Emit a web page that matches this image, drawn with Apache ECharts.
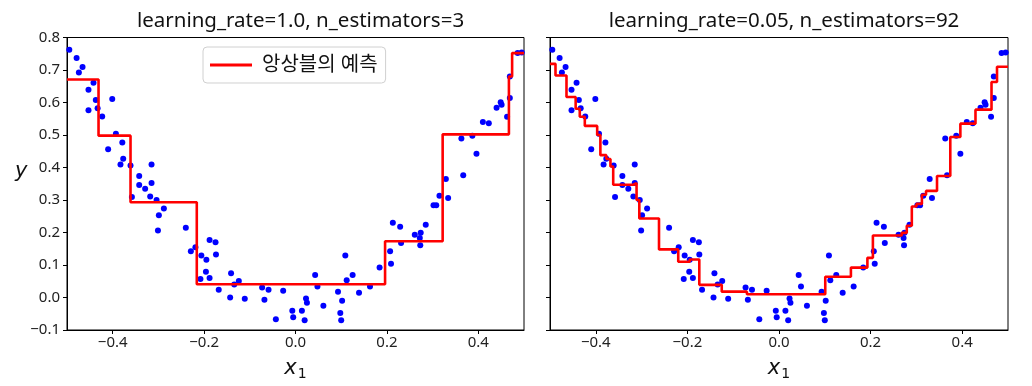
<!DOCTYPE html>
<html>
<head>
<meta charset="utf-8">
<script src="https://cdn.jsdelivr.net/npm/echarts@6/dist/echarts.min.js"></script>
<style>
html,body{margin:0;padding:0;background:#fff;}
#chart{width:1032px;height:386px;}
</style>
</head>
<body>
<div id="chart"></div>
<script>
// ---- data ----
const pointX = [-0.495,-0.479,-0.466,-0.474,-0.442,-0.453,-0.437,-0.401,-0.453,-0.433,
  -0.423,-0.393,-0.379,-0.410,-0.377,-0.383,-0.361,-0.315,-0.342,-0.342,
  -0.329,-0.315,-0.358,-0.318,-0.304,-0.288,-0.299,-0.301,-0.240,-0.229,
  -0.219,-0.188,-0.175,-0.206,-0.195,-0.174,-0.196,-0.208,-0.188,-0.168,
  -0.141,-0.134,-0.124,-0.143,-0.111,-0.073,-0.059,-0.068,-0.027,-0.043,
  -0.007,-0.005,0.014,0.020,0.023,0.025,0.043,0.048,0.061,0.093,
  0.102,0.098,0.100,0.109,0.112,0.125,0.139,0.163,0.184,0.209,
  0.207,0.213,0.229,0.231,0.261,0.272,0.274,0.273,0.285,0.302,
  0.308,0.315,0.334,0.329,0.367,0.396,0.363,0.387,0.410,0.423,
  0.440,0.449,0.451,0.469,0.463,0.469,0.486,0.495];
const pointY = [0.762,0.737,0.709,0.692,0.661,0.639,0.608,0.611,0.576,0.582,
  0.557,0.504,0.477,0.456,0.427,0.409,0.406,0.409,0.374,0.346,
  0.335,0.352,0.309,0.311,0.300,0.274,0.253,0.206,0.215,0.142,
  0.155,0.177,0.170,0.129,0.116,0.132,0.079,0.057,0.060,0.024,
  0.075,0.040,0.051,0.000,-0.004,0.031,0.024,-0.007,0.021,-0.067,
  -0.041,-0.061,-0.041,-0.070,-0.003,-0.016,0.069,0.034,-0.025,0.018,
  -0.010,-0.048,-0.070,0.129,0.053,0.069,0.015,0.034,0.092,0.104,
  0.142,0.230,0.218,0.168,0.193,0.183,0.199,0.161,0.224,0.284,
  0.284,0.313,0.306,0.365,0.376,0.442,0.489,0.498,0.540,0.536,
  0.584,0.601,0.593,0.614,0.556,0.680,0.752,0.754];

// ensemble predictions: step thresholds and levels
const breaksLeft = [-0.431,-0.361,-0.216,0.196,0.322,0.467,0.474];
const levelsLeft = [0.671,0.498,0.293,0.041,0.173,0.502,0.680,0.752];

const breaksRight = [-0.488,-0.464,-0.444,-0.435,-0.424,-0.397,-0.390,-0.377,-0.368,-0.362,
  -0.318,-0.311,-0.305,-0.262,-0.220,-0.195,-0.174,-0.125,-0.070,0.101,
  0.157,0.193,0.205,0.268,0.279,0.290,0.300,0.312,0.321,0.345,
  0.374,0.396,0.429,0.464,0.476];
const levelsRight = [0.719,0.683,0.617,0.581,0.556,0.528,0.500,0.438,0.426,0.403,0.347,
  0.352,0.300,0.243,0.148,0.110,0.117,0.039,0.018,0.010,0.064,
  0.092,0.122,0.191,0.199,0.221,0.280,0.288,0.316,0.328,0.374,
  0.494,0.535,0.578,0.663,0.710];

const xRange = [-0.5, 0.5];
const yRange = [-0.1, 0.8];
const xTicks = [-0.4,-0.2,0.0,0.2,0.4];
const yTicks = [-0.1,0.0,0.1,0.2,0.3,0.4,0.5,0.6,0.7,0.8];

const titles = ['learning_rate=1.0, n_estimators=3','learning_rate=0.05, n_estimators=92'];
const legendName = '앙상블의 예측';

// ---- build ----
function stepLine(breaks, levels){
  const pts = [[xRange[0], levels[0]]];
  breaks.forEach((b,i)=>{ pts.push([b, levels[i]]); pts.push([b, levels[i+1]]); });
  pts.push([xRange[1], levels[levels.length-1]]);
  return pts;
}
const scatterData = pointX.map((x,i)=>[x, pointY[i]]);
const FONT = '"Noto Sans", "Noto Sans CJK KR", sans-serif';
const MATH = '"DejaVu Sans", sans-serif';
const fmt = v => v.toFixed(1).replace('-', '\u2212');

const grids = [
  {left:67, top:37.5, width:457, height:295.5},
  {left:550, top:37.5, width:458, height:295.5}
];

function xAx(i){
  return {
    type:'value', gridIndex:i, min:xRange[0], max:xRange[1],
    axisLine:{show:true, onZero:false, lineStyle:{color:'#000', width:1}},
    axisTick:{show:true, length:4, customValues:xTicks, lineStyle:{color:'#000'}},
    axisLabel:{show:true, customValues:xTicks, formatter:fmt, color:'#222', fontSize:15, fontFamily:FONT, margin:5},
    splitLine:{show:false},
    name:'{x|x}{s|1}', nameLocation:'middle', nameGap:27,
    nameTextStyle:{rich:{
      x:{fontSize:21, fontStyle:'italic', fontFamily:MATH, color:'#111'},
      s:{fontSize:14, fontFamily:MATH, color:'#111', padding:[10,0,0,1]}
    }}
  };
}
function yAx(i){
  return {
    type:'value', gridIndex:i, min:yRange[0], max:yRange[1],
    axisLine:{show:true, onZero:false, lineStyle:{color:'#000', width:1}},
    axisTick:{show:true, length:4, customValues:yTicks, lineStyle:{color:'#000'}},
    axisLabel:{show:i===0, customValues:yTicks, formatter:fmt, color:'#222', fontSize:15, fontFamily:FONT, margin:7},
    splitLine:{show:false}
  };
}

const option = {
  animation:false,
  backgroundColor:'#fff',
  title: titles.map((t,i)=>({
    text:t, left: grids[i].left + grids[i].width/2, top:6, textAlign:'center',
    textStyle:{fontSize:20.5, fontWeight:'normal', color:'#111', fontFamily:FONT}
  })),
  graphic:[{
    type:'text', left:15, top:161,
    style:{text:'y', fontSize:21, fontStyle:'italic', fontFamily:MATH, fill:'#111'}
  }],
  legend:{
    data:[{name:legendName, icon:'rect'}], left:203, top:47, orient:'vertical',
    backgroundColor:'rgba(255,255,255,0.8)', borderColor:'#d0d0d0', borderWidth:1, borderRadius:4,
    padding:[8,8,8,7], itemWidth:42, itemHeight:2.8,
    textStyle:{fontSize:20, color:'#111', fontFamily:FONT, padding:[0,0,0,5]}
  },
  grid: grids.map(g=>Object.assign({show:true, borderColor:'#000', borderWidth:1, backgroundColor:'transparent'}, g)),
  xAxis:[xAx(0), xAx(1)],
  yAxis:[yAx(0), yAx(1)],
  series:[
    {type:'scatter', xAxisIndex:0, yAxisIndex:0, data:scatterData, symbolSize:6, itemStyle:{color:'#0000ff', opacity:1}, z:2},
    {type:'scatter', xAxisIndex:1, yAxisIndex:1, data:scatterData, symbolSize:6, itemStyle:{color:'#0000ff', opacity:1}, z:2},
    {type:'line', name:legendName, xAxisIndex:0, yAxisIndex:0, data:stepLine(breaksLeft, levelsLeft), symbol:'none',
      lineStyle:{color:'#ff0000', width:2.6}, itemStyle:{color:'#ff0000'}, z:3},
    {type:'line', name:'pred92', xAxisIndex:1, yAxisIndex:1, data:stepLine(breaksRight, levelsRight), symbol:'none',
      lineStyle:{color:'#ff0000', width:2.6}, itemStyle:{color:'#ff0000'}, z:3}
  ]
};
const chart = echarts.init(document.getElementById('chart'), null, {renderer:'canvas'});
chart.setOption(option);
</script>
</body>
</html>
